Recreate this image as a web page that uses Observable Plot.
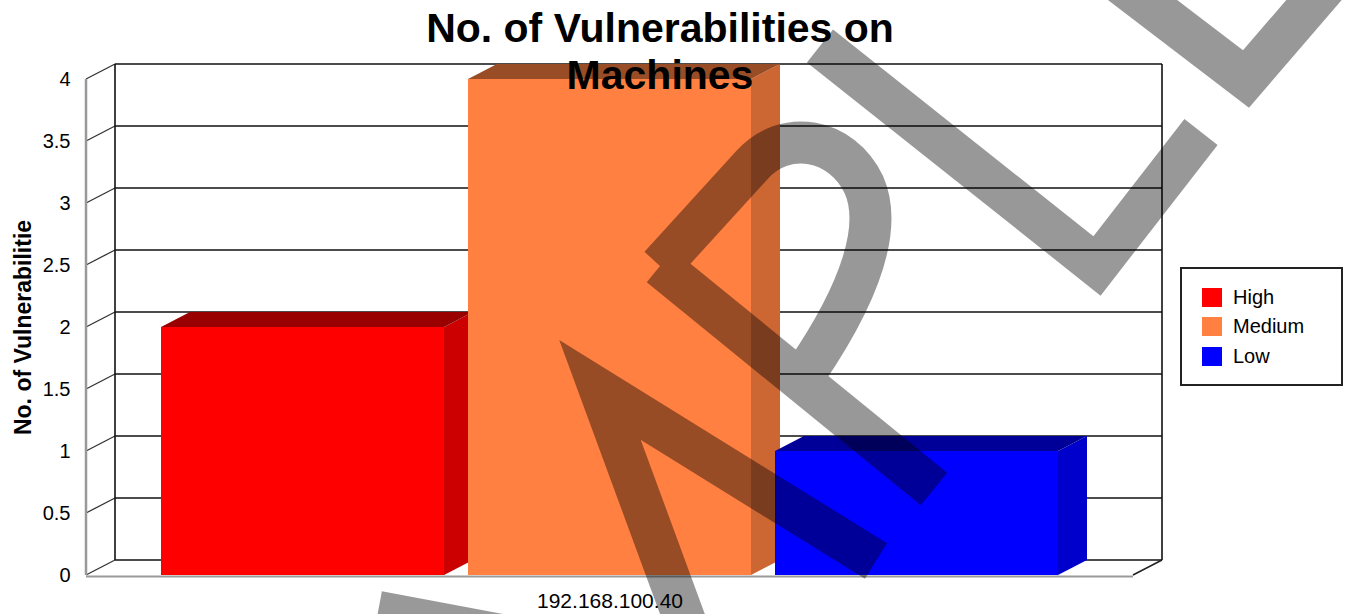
<!DOCTYPE html>
<html><head><meta charset="utf-8">
<script src="https://cdn.jsdelivr.net/npm/d3@7"></script>
<script src="https://cdn.jsdelivr.net/npm/@observablehq/plot@0.6"></script>
<style>
html,body{margin:0;padding:0;background:#fff;}
#wrap{position:relative;width:1349px;height:614px;overflow:hidden;font-family:"Liberation Sans",Arial,sans-serif;color:#000;}
#chart{position:absolute;left:0;top:0;}
#title{position:absolute;left:0;top:5px;width:1320px;text-align:center;font-weight:bold;font-size:41px;line-height:47px;}
#legend{position:absolute;left:1180px;top:267px;width:163px;height:119px;border:2px solid #222;background:#fff;box-sizing:border-box;}
.item{position:absolute;left:20px;height:30px;display:flex;align-items:center;font-size:20px;white-space:nowrap;}
.sw{width:20px;height:19px;margin-right:11px;flex:none;}
#wm{position:absolute;left:0;top:0;pointer-events:none;}
</style></head><body><div id="wrap"><div id="chart"></div><div id="title"></div><div id="legend"></div></div>
<script>
// ---- data ----
const severities = ["High", "Medium", "Low"];
const counts = [2, 4, 1];
const hosts = ["192.168.100.40"];
const yTicks = [0, 0.5, 1, 1.5, 2, 2.5, 3, 3.5, 4];
const frontColors = ["#ff0000", "#ff8040", "#0000ff"];
const sideColors = ["#cc0000", "#cc6633", "#0000cc"];
const topColors = ["#990000", "#994d26", "#000099"];
const titleLines = ["No. of Vulnerabilities on", "Machines"];
const yTitle = "No. of Vulnerabilitie";
// decorative "SAMPLE" watermark strokes (not data)
const watermarkStrokes = [
  "M378,612 L560,646",
  "M692,640 L600,390 L876,561",
  "M660,266 L934,489",
  "M660,266 L752,165 C785,128 842,138 864,185 C882,226 862,290 806,372",
  "M820,46 L1097,266 L1201,132",
  "M1098,-34 L1246,79 L1345,-36"
];

const data = severities.map((s, i) => ({severity: s, count: counts[i]}));
const DX = 29, DY = -15;

function box3d(index, scales, values, dimensions) {
  const {x, y} = scales;
  const {width, marginLeft, marginRight} = dimensions;
  const x0 = marginLeft, x1 = width - marginRight;
  const yTop = y(d3.max(yTicks)), yBot = y(0);
  const g = d3.create("svg:g");
  const line = (a, b, c, d, stroke, sw) => g.append("line")
    .attr("x1", a).attr("y1", b).attr("x2", c).attr("y2", d)
    .attr("stroke", stroke).attr("stroke-width", sw);
  g.append("rect").attr("x", x0 + DX).attr("y", yTop + DY)
    .attr("width", x1 - x0).attr("height", yBot - yTop).attr("fill", "#fff");
  for (const t of yTicks) line(x0 + DX, y(t) + DY, x1 + DX, y(t) + DY, "#111", 1.6);
  for (const t of yTicks) line(x0, y(t), x0 + DX, y(t) + DY, "#333", 1.3);
  line(x0 + DX, yTop + DY, x0 + DX, yBot + DY, "#111", 1.6);
  line(x1 + DX, yTop + DY, x1 + DX, yBot + DY, "#111", 1.6);
  line(x1, yBot, x1 + DX, yBot + DY, "#222", 1.5);
  line(x0, yTop, x0, yBot, "#999", 2.5);
  const bw = typeof x.bandwidth === "function" ? x.bandwidth() : x.bandwidth;
  severities.forEach((s, i) => {
    const l = x(s), r = l + bw, t = y(counts[i]), b = y(0);
    const pts = p => p.map(q => q.join(",")).join(" ");
    g.append("polygon").attr("points", pts([[r, t], [r + DX, t + DY], [r + DX, b + DY], [r, b]])).attr("fill", sideColors[i]);
    g.append("polygon").attr("points", pts([[l, t], [l + DX, t + DY], [r + DX, t + DY], [r, t]])).attr("fill", topColors[i]);
  });
  return g.node();
}

const plot = Plot.plot({
  width: 1349,
  height: 614,
  marginLeft: 86,
  marginRight: 216,
  marginTop: 79,
  marginBottom: 39,
  style: {fontFamily: "Liberation Sans, Arial, sans-serif", fontSize: "20px", color: "#000", background: "transparent", overflow: "visible"},
  x: {type: "band", domain: severities, paddingInner: 0.078, paddingOuter: 0.244, axis: null},
  y: {domain: [0, 4]},
  color: {domain: severities, range: frontColors},
  marks: [
    box3d,
    Plot.barY(data, {x: "severity", y: "count", fill: "severity"}),
    Plot.ruleY([0], {stroke: "#999", strokeWidth: 2, dy: 1}),
    Plot.axisY(yTicks, {tickSize: 0, tickPadding: 16, fontSize: 20, label: null, tickFormat: d => String(d)}),
    Plot.text([yTitle], {text: d => d, frameAnchor: "left", rotate: -90, dx: -63, fontSize: 23, fontWeight: "bold", lineAnchor: "middle", textAnchor: "middle"}),
    Plot.text(hosts, {text: d => d, frameAnchor: "bottom", lineAnchor: "middle", dy: 26, fontSize: 21})
  ]
});
document.getElementById("chart").appendChild(plot);

// title
document.getElementById("title").innerHTML = titleLines.map(t => `<div>${t}</div>`).join("");

// legend from the plot's color scale
const colorScale = plot.scale("color");
const legend = document.getElementById("legend");
severities.forEach((s, i) => {
  const item = document.createElement("div");
  item.className = "item";
  item.style.top = (13 + i * 29.5) + "px";
  item.innerHTML = `<div class="sw" style="background:${colorScale.apply(s)}"></div><span>${s}</span>`;
  legend.appendChild(item);
});

// watermark overlay
const wm = d3.select("#wrap").append("svg").attr("id", "wm").attr("width", 1349).attr("height", 614);
const wg = wm.append("g").attr("opacity", 0.4);
watermarkStrokes.forEach(d => wg.append("path").attr("d", d).attr("fill", "none")
  .attr("stroke", "#000").attr("stroke-width", 42).attr("stroke-linejoin", "miter").attr("stroke-linecap", "butt"));
</script>
</body></html>
